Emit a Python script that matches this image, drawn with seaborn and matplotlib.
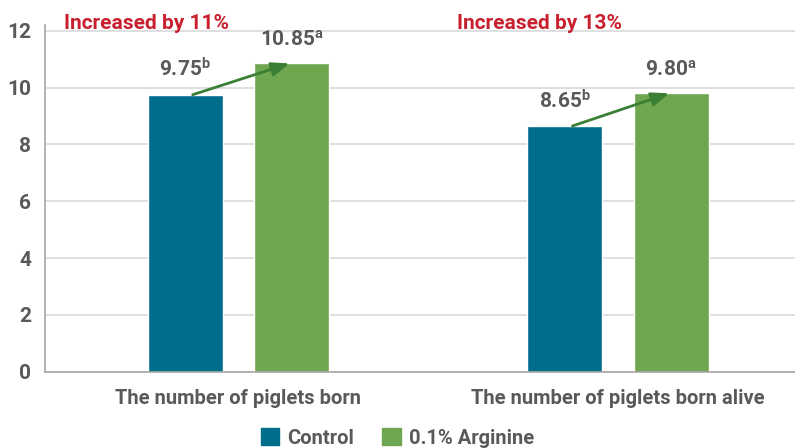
import matplotlib
matplotlib.use("Agg")
import matplotlib.pyplot as plt
from matplotlib import font_manager
import seaborn as sns
import pandas as pd

categories = ["The number of piglets born", "The number of piglets born alive"]
groups = ["Control", "0.1% Arginine"]
control_values = [9.75, 8.65]
arginine_values = [10.85, 9.80]
control_letters = ["b", "b"]
arginine_letters = ["a", "a"]
increase_labels = ["Increased by 11%", "Increased by 13%"]
y_ticks = [0, 2, 4, 6, 8, 10, 12]

colors = {"Control": "#006D8D", "0.1% Arginine": "#6FA650"}
text_gray = "#595959"
red = "#C8202F"
arrow_green = "#3B7F34"

df = pd.DataFrame({
    "category": categories * 2,
    "group": [groups[0]] * len(categories) + [groups[1]] * len(categories),
    "value": control_values + arginine_values,
})

sns.set_theme(style="white")
available = {f.name for f in font_manager.fontManager.ttflist}
family = next((f for f in ["Liberation Sans Narrow", "Roboto", "DejaVu Sans"] if f in available), "DejaVu Sans")
plt.rcParams["font.family"] = [family, "DejaVu Sans"]
plt.rcParams["font.weight"] = "bold"
plt.rcParams["mathtext.default"] = "regular"

fig = plt.figure(figsize=(7.95, 4.48), dpi=100)
ax = fig.add_axes([0.057, 0.170, 0.943, 0.774])

sns.barplot(data=df, x="category", y="value", hue="group", hue_order=groups,
            order=categories, palette=colors, width=0.56, gap=0.296,
            saturation=1, ax=ax, legend=True)

ax.set_ylim(0, 12.2)
ax.set_xlim(-0.508, 1.466)
ax.set_yticks(y_ticks)
ax.yaxis.grid(True, color="#D9D9D9", linewidth=1.2)
ax.set_axisbelow(True)
for side in ["top", "right"]:
    ax.spines[side].set_visible(False)
for side in ["left", "bottom"]:
    ax.spines[side].set_color("#A6A6A6")
    ax.spines[side].set_linewidth(1.2)
ax.tick_params(axis="y", length=0, pad=10, labelsize=15, labelcolor=text_gray)
ax.tick_params(axis="x", length=0, pad=12, labelsize=14.5, labelcolor=text_gray)
for lbl in ax.get_xticklabels() + ax.get_yticklabels():
    lbl.set_fontweight("bold")
ax.set_xlabel("")
ax.set_ylabel("")

ctrl_bars = ax.containers[0]
arg_bars = ax.containers[1]
for i in range(len(categories)):
    cb = ctrl_bars[i]
    ab = arg_bars[i]
    cx = cb.get_x() + cb.get_width() / 2
    axx = ab.get_x() + ab.get_width() / 2
    ax.annotate(f"{control_values[i]:.2f}$^{{{control_letters[i]}}}$",
                (cx, control_values[i]), xytext=(0, 10), textcoords="offset points",
                ha="center", va="bottom", fontsize=15, fontweight="bold", color=text_gray)
    ax.annotate(f"{arginine_values[i]:.2f}$^{{{arginine_letters[i]}}}$",
                (axx, arginine_values[i]), xytext=(0, 10), textcoords="offset points",
                ha="center", va="bottom", fontsize=15, fontweight="bold", color=text_gray)
    ax.annotate("", xy=(axx - 0.005, arginine_values[i]), xytext=(cx + 0.02, control_values[i]),
                arrowprops=dict(arrowstyle="-|>,head_length=0.9,head_width=0.35",
                                color=arrow_green, lw=2, shrinkA=0, shrinkB=0))

increase_x = [-0.458, 0.575]
for x, txt in zip(increase_x, increase_labels):
    ax.text(x, 12.25, txt, ha="left", va="center", fontsize=15, fontweight="bold",
            color=red, clip_on=False)

ax.get_legend().remove()
handles = [plt.Rectangle((0, 0), 1, 1, color=colors[g]) for g in groups]
leg = fig.legend(handles, groups, loc="lower center", bbox_to_anchor=(0.5, -0.04),
                 ncol=2, frameon=False, fontsize=14.5, handlelength=0.9, handleheight=0.9,
                 handletextpad=0.4, columnspacing=1.4)
for t in leg.get_texts():
    t.set_color(text_gray)
    t.set_fontweight("bold")

fig.savefig("out.png", dpi=100)
